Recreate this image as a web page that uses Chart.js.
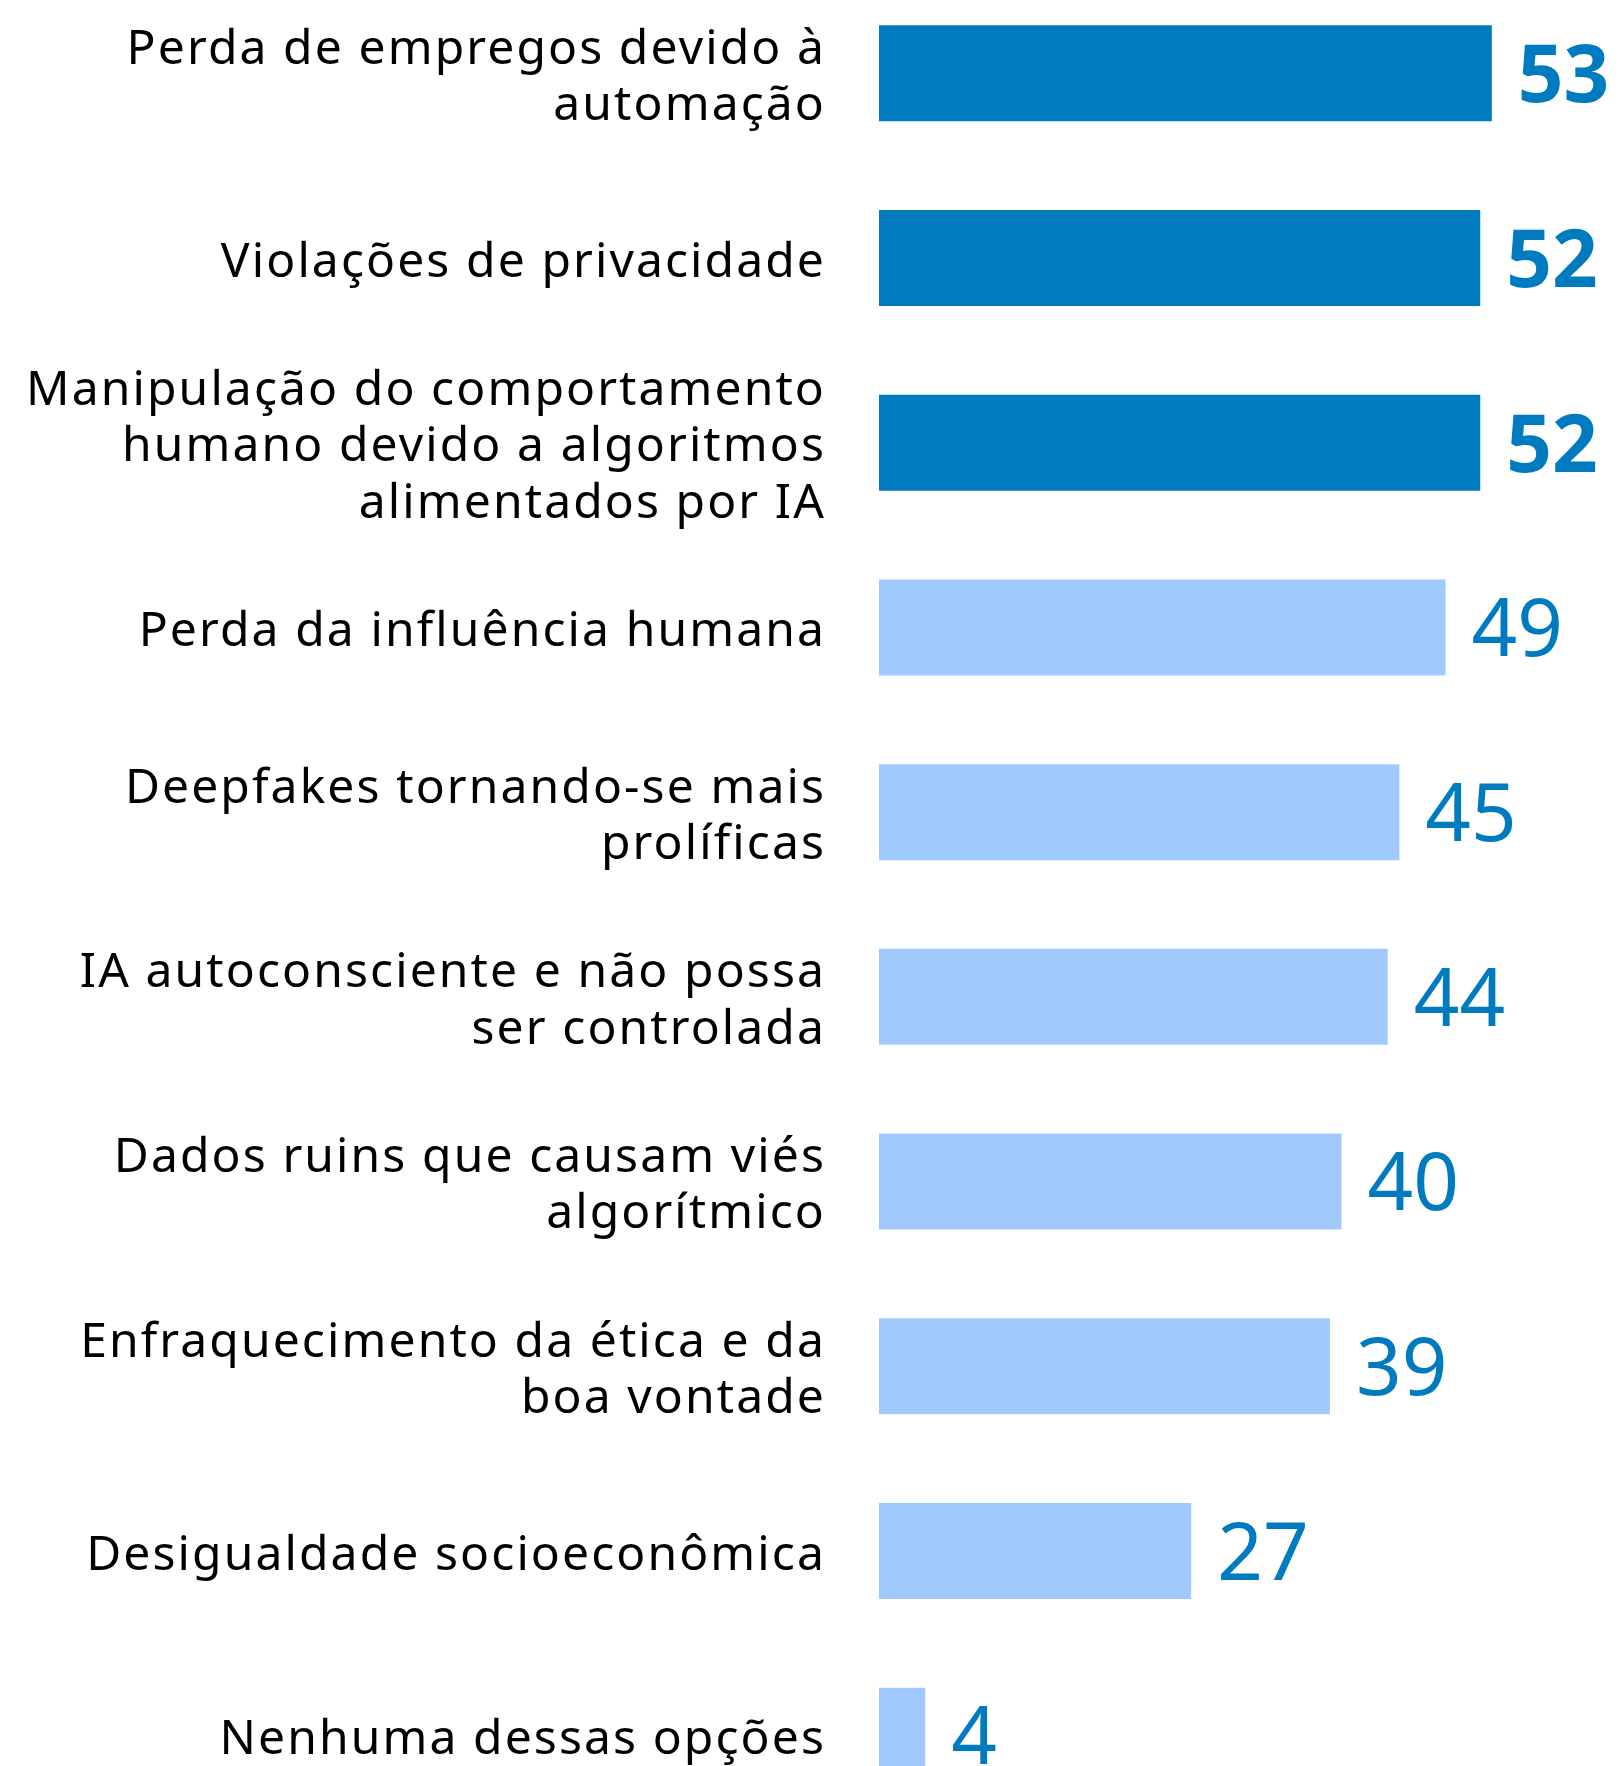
<!DOCTYPE html>
<html>
<head>
<meta charset="utf-8">
<script src="https://cdn.jsdelivr.net/npm/chart.js@4/dist/chart.umd.min.js"></script>
<style>
  html, body { margin: 0; padding: 0; background: #fff; }
  #wrap { position: relative; width: 1619px; height: 1766px; overflow: hidden; }
  #chart { position: absolute; left: 0; top: -19px; }
</style>
</head>
<body>
<div id="wrap"><canvas id="chart" width="1619" height="1847"></canvas></div>
<script>
// ─────────────────────────────────────────────
//  Data
// ─────────────────────────────────────────────
const categories = [
  ['Perda de empregos devido à', 'automação'],
  'Violações de privacidade',
  ['Manipulação do comportamento', 'humano devido a algoritmos', 'alimentados por IA'],
  'Perda da influência humana',
  ['Deepfakes tornando-se mais', 'prolíficas'],
  ['IA autoconsciente e não possa', 'ser controlada'],
  ['Dados ruins que causam viés', 'algorítmico'],
  ['Enfraquecimento da ética e da', 'boa vontade'],
  'Desigualdade socioeconômica',
  'Nenhuma dessas opções',
];
const values    = [53, 52, 52, 49, 45, 44, 40, 39, 27, 4];
const highlight = [true, true, true, false, false, false, false, false, false, false];

const DARK  = '#007BC0';
const LIGHT = '#A0CAFD';
const FONT  = "'Noto Sans', sans-serif";

// wider tracking for category labels (canvas letterSpacing)
const tracking = {
  id: 'tracking',
  beforeDraw(chart) { chart.ctx.letterSpacing = '2.1px'; },
};

// value labels right of each bar
const valueLabels = {
  id: 'valueLabels',
  afterDatasetsDraw(chart) {
    const ctx  = chart.ctx;
    const meta = chart.getDatasetMeta(0);
    ctx.save();
    ctx.letterSpacing = '0px';
    ctx.fillStyle = DARK;
    ctx.textBaseline = 'middle';
    ctx.textAlign = 'left';
    meta.data.forEach((bar, i) => {
      ctx.font = (highlight[i] ? 'bold ' : '') + '80px ' + FONT;
      ctx.fillText(String(values[i]), bar.x + 26, bar.y + 6);
    });
    ctx.restore();
  },
};

new Chart(document.getElementById('chart'), {
  type: 'bar',
  data: {
    labels: categories,
    datasets: [{
      data: values,
      backgroundColor: highlight.map(h => h ? DARK : LIGHT),
      borderWidth: 0,
      categoryPercentage: 1,
      barPercentage: 0.52,
    }],
  },
  options: {
    indexAxis: 'y',
    responsive: false,
    animation: false,
    devicePixelRatio: 1,
    layout: { padding: 0 },
    plugins: {
      legend:  { display: false },
      tooltip: { enabled: false },
    },
    scales: {
      x: {
        display: false,
        min: 0,
        max: 64,
      },
      y: {
        grid:   { display: false, drawTicks: false },
        border: { display: false },
        ticks: {
          color: '#000',
          padding: 53,
          labelOffset: 5,
          autoSkip: false,
          font: { family: FONT, size: 48, lineHeight: 1.17 },
        },
        afterFit: s => {
          s.width = 879;
          s.paddingTop = 0;
          s.paddingBottom = 0;
        },
      },
    },
  },
  plugins: [tracking, valueLabels],
});
</script>
</body>
</html>
